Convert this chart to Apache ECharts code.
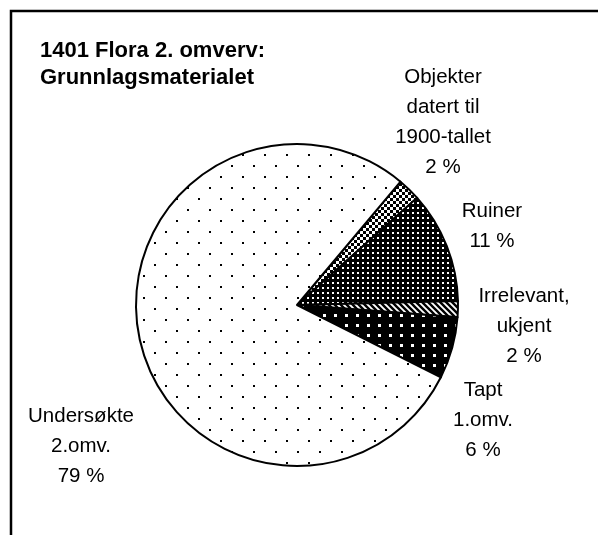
<!DOCTYPE html>
<html>
<head>
<meta charset="utf-8">
<script src="https://cdn.jsdelivr.net/npm/echarts@6/dist/echarts.min.js"></script>
<style>
	html, body { margin: 0; padding: 0; background: #fff; }
	#chart { width: 598px; height: 535px; }
</style>
</head>
<body>
<div id="chart"></div>
<script>
/* 數據 */
const titleLines = ["1401 Flora 2. omverv:", "Grunnlagsmaterialet"];
const categories = [
	"Objekter\ndatert til\n1900-tallet",
	"Ruiner",
	"Irrelevant,\nukjent",
	"Tapt\n1.omv.",
	"Undersøkte\n2.omv.",
];
const values = [2.3, 11.2, 1.6, 6.2, 78.7];

/* 標籤位置 (中心點) */
const labelPos = [
	[443, 122],
	[492, 226],
	[524, 326],
	[483, 420],
	[81, 446],
];

/* 圖案填充 */
const makeTile = (w, h, bg, fg, draw) => {
	const c = document.createElement("canvas");
	c.width = w;
	c.height = h;
	const ctx = c.getContext("2d");
	ctx.fillStyle = bg;
	ctx.fillRect(0, 0, w, h);
	ctx.fillStyle = fg;
	ctx.strokeStyle = fg;
	draw(ctx);
	return { image: c, repeat: "repeat" };
};
const patterns = [
	/* 細格子 */
	makeTile(6, 6, "#fff", "#000", (ctx) => {
		ctx.fillRect(0, 0, 3, 3);
		ctx.fillRect(3, 3, 3, 3);
	}),
	/* 黑底白方格 */
	makeTile(5, 5, "#000", "#fff", (ctx) => {
		ctx.fillRect(2, 2, 2, 2);
	}),
	/* 斜線 */
	makeTile(6, 6, "#fff", "#000", (ctx) => {
		ctx.lineWidth = 2.4;
		ctx.beginPath();
		ctx.moveTo(-1, -1);
		ctx.lineTo(7, 7);
		ctx.moveTo(-4, 2);
		ctx.lineTo(4, 10);
		ctx.moveTo(2, -4);
		ctx.lineTo(10, 4);
		ctx.stroke();
	}),
	/* 黑底白點 */
	makeTile(11, 10, "#000", "#fff", (ctx) => {
		ctx.fillRect(4, 4, 3, 3);
	}),
	/* 稀疏黑點 */
	makeTile(22, 22, "#fff", "#000", (ctx) => {
		ctx.fillRect(0, 0, 2, 2);
		ctx.fillRect(11, 11, 2, 2);
	}),
];

const chart = echarts.init(document.getElementById("chart"));
chart.setOption({
	animation: false,
	backgroundColor: "#fff",
	title: {
		text: titleLines.join("\n"),
		left: 35,
		top: 32,
		textStyle: {
			fontFamily: "Liberation Sans, Arial, sans-serif",
			fontWeight: "bold",
			fontSize: 22,
			lineHeight: 27,
			color: "#000",
		},
	},
	graphic: [
		{
			type: "rect",
			shape: { x: 11, y: 11, width: 800, height: 800 },
			style: { fill: null, stroke: "#000", lineWidth: 2.5 },
			silent: true,
		},
	],
	series: [
		{
			type: "pie",
			center: [297, 305],
			radius: 161,
			startAngle: 50,
			clockwise: true,
			avoidLabelOverlap: false,
			emphasis: { disabled: true },
			data: categories.map((name, i) => ({
				name,
				value: values[i],
				itemStyle: { color: patterns[i] },
			})),
			itemStyle: {
				borderColor: "#000",
				borderWidth: 2,
			},
			label: {
				show: true,
				position: "outside",
				formatter: (p) => `${p.name}\n${Math.round(p.percent)} %`,
				fontFamily: "Liberation Sans, Arial, sans-serif",
				fontSize: 20.5,
				lineHeight: 30,
				color: "#000",
				align: "center",
			},
			labelLine: { show: false },
			labelLayout: (params) => ({
				x: labelPos[params.dataIndex][0],
				y: labelPos[params.dataIndex][1],
				align: "center",
				verticalAlign: "middle",
			}),
		},
	],
});
</script>
</body>
</html>
